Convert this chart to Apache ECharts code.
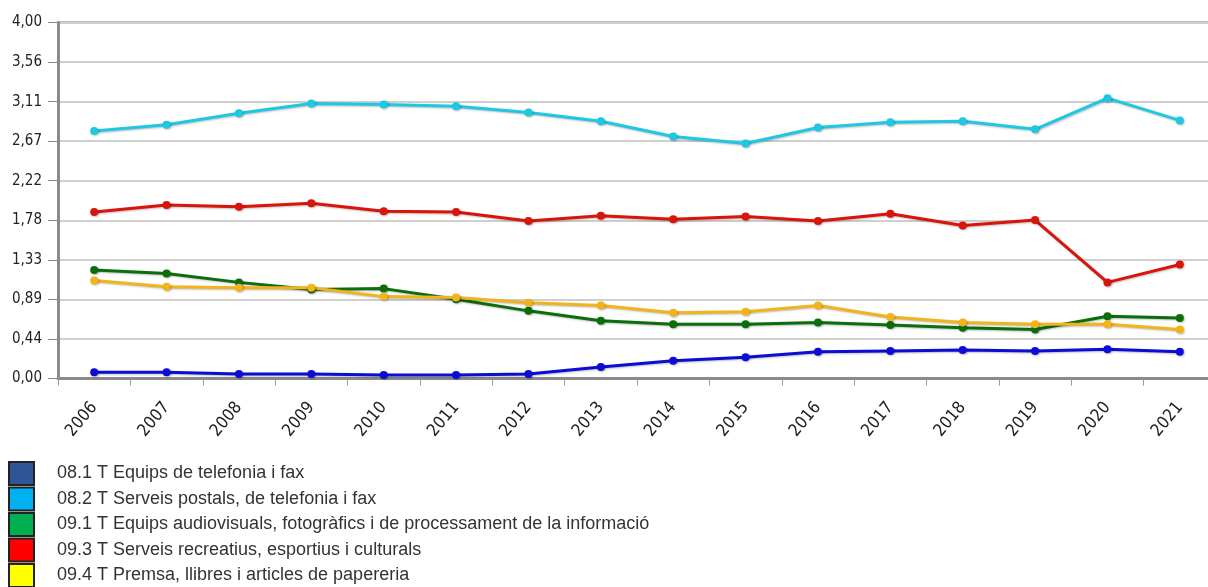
<!DOCTYPE html>
<html>
<head>
<meta charset="utf-8">
<script src="https://cdn.jsdelivr.net/npm/echarts@6/dist/echarts.min.js"></script>
<style>
    html, body { margin: 0; padding: 0; background: #fff; }
    #chart { width: 1208px; height: 587px; }
</style>
</head>
<body>
<div id="chart"></div>
<script>
// anys
const years = ["2006", "2007", "2008", "2009", "2010", "2011", "2012", "2013", "2014", "2015", "2016", "2017", "2018", "2019", "2020", "2021"];

const names = [
    "08.1 T Equips de telefonia i fax",
    "08.2 T Serveis postals, de telefonia i fax",
    "09.1 T Equips audiovisuals, fotogràfics i de processament de la informació",
    "09.3 T Serveis recreatius, esportius i culturals",
    "09.4 T Premsa, llibres i articles de papereria"
];

const equipsTelefonia = [0.07, 0.07, 0.05, 0.05, 0.04, 0.04, 0.05, 0.13, 0.20, 0.24, 0.30, 0.31, 0.32, 0.31, 0.33, 0.30];
const serveisPostals = [2.78, 2.85, 2.98, 3.09, 3.08, 3.06, 2.99, 2.89, 2.72, 2.64, 2.82, 2.88, 2.89, 2.80, 3.15, 2.90];
const equipsAudiovisuals = [1.22, 1.18, 1.08, 1.00, 1.01, 0.89, 0.76, 0.65, 0.61, 0.61, 0.63, 0.60, 0.57, 0.55, 0.70, 0.68];
const serveisRecreatius = [1.87, 1.95, 1.93, 1.97, 1.88, 1.87, 1.77, 1.83, 1.79, 1.82, 1.77, 1.85, 1.72, 1.78, 1.08, 1.28];
const premsa = [1.10, 1.03, 1.02, 1.02, 0.92, 0.91, 0.85, 0.82, 0.74, 0.75, 0.82, 0.69, 0.63, 0.61, 0.61, 0.55];

const lineColors = ["#0c0cd6", "#1ec8e3", "#0b6e0b", "#d9140a", "#f2b31b"];
const legendColors = ["#2e5597", "#00b0f0", "#00b050", "#ff0000", "#ffff00"];
const seriesData = [equipsTelefonia, serveisPostals, equipsAudiovisuals, serveisRecreatius, premsa];

const axisFont = "'DejaVu Sans Condensed', 'DejaVu Sans', sans-serif";

let chart = echarts.init(document.getElementById("chart"));

function makeSeries(i) {
    return {
        name: names[i],
        type: "line",
        data: seriesData[i],
        symbol: "circle",
        symbolSize: 8,
        showAllSymbol: true,
        lineStyle: {
            color: lineColors[i],
            width: 3,
            shadowColor: "rgba(0,0,0,0.25)",
            shadowBlur: 2,
            shadowOffsetX: 1,
            shadowOffsetY: 1,
        },
        itemStyle: {
            color: lineColors[i],
            shadowColor: "rgba(0,0,0,0.25)",
            shadowBlur: 2,
            shadowOffsetX: 1,
            shadowOffsetY: 1,
        },
    };
}

chart.setOption({
    backgroundColor: "#fff",
    animation: false,
    grid: {
        left: 58,
        width: 1158,
        top: 22.5,
        height: 356,
        outerBoundsMode: "none",
        containLabel: false,
        show: true,
        borderColor: "#7a7a7a",
        borderWidth: 2,
    },
    legend: {
        orient: "vertical",
        left: 8,
        top: 461,
        height: 300,
        padding: 0,
        itemWidth: 25,
        itemHeight: 23,
        itemGap: 0.5,
        icon: "rect",
        selectedMode: false,
        textStyle: {
            fontFamily: "Liberation Sans",
            fontSize: 18,
            lineHeight: 22,
            color: "#333",
            padding: [0, 0, 0, 18],
        },
        data: names.map((n, i) => ({
            name: n,
            itemStyle: { color: legendColors[i], borderColor: "#222", borderWidth: 2 },
        })),
    },
    xAxis: {
        type: "category",
        data: years,
        boundaryGap: true,
        axisLine: { lineStyle: { color: "#8a8a8a", width: 3 } },
        axisTick: { show: true, length: 7, lineStyle: { color: "#9a9a9a", width: 1 } },
        axisLabel: {
            rotate: 50,
            margin: 26,
            fontFamily: axisFont,
            fontSize: 17,
            color: "#222",
        },
        splitLine: { show: false },
    },
    yAxis: {
        type: "value",
        min: 0,
        max: 4,
        interval: 4 / 9,
        axisLine: { show: true, lineStyle: { color: "#8a8a8a", width: 3 } },
        axisTick: { show: true, length: 10, lineStyle: { color: "#8a8a8a", width: 1 } },
        axisLabel: {
            margin: 16,
            fontFamily: axisFont,
            fontSize: 15,
            color: "#222",
            formatter: v => v.toFixed(2).replace(".", ","),
        },
        splitLine: { lineStyle: { color: "#cfcfcf", width: 2 } },
    },
    series: [makeSeries(0), makeSeries(1), makeSeries(2), makeSeries(3), makeSeries(4)],
});
</script>
</body>
</html>
